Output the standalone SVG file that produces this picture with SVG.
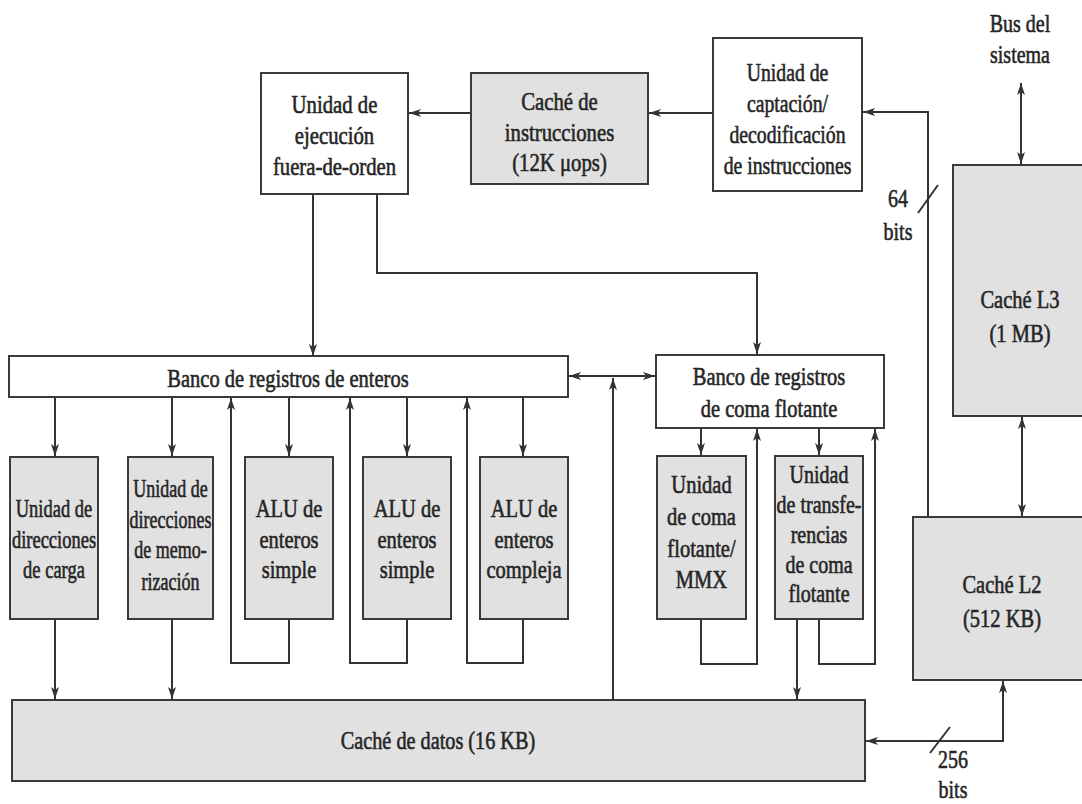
<svg xmlns="http://www.w3.org/2000/svg" width="1082" height="804" viewBox="0 0 1082 804">
<defs>
<style>
.box{fill:#ffffff;stroke:#3a3a3a;stroke-width:2}
.sh{fill:#e1e1e1;stroke:#3a3a3a;stroke-width:2}
.ln{fill:none;stroke:#333;stroke-width:2}
.t{font-family:"Liberation Serif","Times New Roman",serif;font-size:25px;fill:#262626;stroke:#262626;stroke-width:0.6;text-anchor:middle}
</style>
<marker id="ah" viewBox="0 0 12 8" markerWidth="12" markerHeight="8" refX="12" refY="4" orient="auto-start-reverse" markerUnits="userSpaceOnUse">
<path d="M0,0 L12,4 L0,8 L3,4 z" fill="#333"/>
</marker>
</defs>
<rect width="1082" height="804" fill="#ffffff"/>

<g id="connectors">
<line class="ln" x1="713" y1="113" x2="649" y2="113" marker-end="url(#ah)"/>
<line class="ln" x1="471" y1="113" x2="409" y2="113" marker-end="url(#ah)"/>
<polyline class="ln" points="928,517 928,112 863,112" marker-end="url(#ah)"/>
<line class="ln" x1="918" y1="213" x2="938" y2="185"/>
<line class="ln" x1="1021" y1="83" x2="1021" y2="164" marker-start="url(#ah)" marker-end="url(#ah)"/>
<line class="ln" x1="1022" y1="417" x2="1022" y2="516" marker-start="url(#ah)" marker-end="url(#ah)"/>
<line class="ln" x1="313" y1="194" x2="313" y2="356" marker-end="url(#ah)"/>
<polyline class="ln" points="377,194 377,273 757,273 757,354" marker-end="url(#ah)"/>
<line class="ln" x1="569" y1="376" x2="655" y2="376" marker-start="url(#ah)" marker-end="url(#ah)"/>
<line class="ln" x1="613" y1="700" x2="613" y2="378" marker-end="url(#ah)"/>
<line class="ln" x1="55" y1="398" x2="55" y2="456" marker-end="url(#ah)"/>
<line class="ln" x1="172" y1="398" x2="172" y2="456" marker-end="url(#ah)"/>
<line class="ln" x1="289" y1="398" x2="289" y2="456" marker-end="url(#ah)"/>
<line class="ln" x1="407" y1="398" x2="407" y2="456" marker-end="url(#ah)"/>
<line class="ln" x1="523" y1="398" x2="523" y2="456" marker-end="url(#ah)"/>
<line class="ln" x1="55" y1="619" x2="55" y2="699" marker-end="url(#ah)"/>
<line class="ln" x1="172" y1="619" x2="172" y2="699" marker-end="url(#ah)"/>
<polyline class="ln" points="289,619 289,663 231,663 231,398" marker-end="url(#ah)"/>
<polyline class="ln" points="407,619 407,663 350,663 350,398" marker-end="url(#ah)"/>
<polyline class="ln" points="523,619 523,663 467,663 467,398" marker-end="url(#ah)"/>
<line class="ln" x1="701" y1="429" x2="701" y2="455" marker-end="url(#ah)"/>
<polyline class="ln" points="701,619 701,664 757,664 757,429" marker-end="url(#ah)"/>
<line class="ln" x1="819" y1="429" x2="819" y2="455" marker-end="url(#ah)"/>
<polyline class="ln" points="819,619 819,664 875,664 875,429" marker-end="url(#ah)"/>
<line class="ln" x1="797" y1="619" x2="797" y2="699" marker-end="url(#ah)"/>
<polyline class="ln" points="1003,681 1003,741 866,741" marker-start="url(#ah)" marker-end="url(#ah)"/>
<line class="ln" x1="930" y1="753" x2="950" y2="727"/>
</g>

<g id="bus">
<text class="t" transform="translate(1020,0) scale(0.8,1)"><tspan x="0" y="32">Bus del</tspan><tspan x="0" y="63">sistema</tspan></text>
</g>
<g id="label64">
<text class="t" transform="translate(898,0) scale(0.8,1)"><tspan x="0" y="207">64</tspan><tspan x="0" y="240">bits</tspan></text>
</g>
<g id="label256">
<text class="t" transform="translate(953,0) scale(0.8,1)"><tspan x="0" y="768">256</tspan><tspan x="0" y="798">bits</tspan></text>
</g>

<g id="ooo">
<rect class="box" x="261" y="73" width="147" height="121"/>
<text class="t" transform="translate(334.5,0) scale(0.83,1)"><tspan x="0" y="113">Unidad de</tspan><tspan x="0" y="144">ejecución</tspan><tspan x="0" y="175">fuera-de-orden</tspan></text>
</g>
<g id="icache">
<rect class="sh" x="471" y="73" width="177" height="111"/>
<text class="t" transform="translate(559.5,0) scale(0.83,1)"><tspan x="0" y="110">Caché de</tspan><tspan x="0" y="141">instrucciones</tspan><tspan x="0" y="171">(12K μops)</tspan></text>
</g>
<g id="fetch">
<rect class="box" x="713" y="38" width="149" height="153"/>
<text class="t" transform="translate(787.5,0) scale(0.79,1)"><tspan x="0" y="81">Unidad de</tspan><tspan x="0" y="112">captación/</tspan><tspan x="0" y="143">decodificación</tspan><tspan x="0" y="174">de instrucciones</tspan></text>
</g>
<g id="l3">
<rect class="sh" x="953" y="165" width="140" height="251"/>
<text class="t" transform="translate(1020,0) scale(0.82,1)"><tspan x="0" y="308">Caché L3</tspan><tspan x="0" y="342">(1 MB)</tspan></text>
</g>
<g id="l2">
<rect class="sh" x="913" y="517" width="180" height="163"/>
<text class="t" transform="translate(1002,0) scale(0.82,1)"><tspan x="0" y="593">Caché L2</tspan><tspan x="0" y="627">(512 KB)</tspan></text>
</g>
<g id="intbank">
<rect class="box" x="9" y="356" width="559" height="41"/>
<text class="t" transform="translate(288,0) scale(0.82,1)"><tspan x="0" y="387">Banco de registros de enteros</tspan></text>
</g>
<g id="fpbank">
<rect class="box" x="656" y="355" width="228" height="73"/>
<text class="t" transform="translate(769,0) scale(0.82,1)"><tspan x="0" y="385">Banco de registros</tspan><tspan x="0" y="417">de coma flotante</tspan></text>
</g>
<g id="load">
<rect class="sh" x="10" y="457" width="88" height="162"/>
<text class="t" transform="translate(54,0) scale(0.74,1)"><tspan x="0" y="517">Unidad de</tspan><tspan x="0" y="548">direcciones</tspan><tspan x="0" y="578">de carga</tspan></text>
</g>
<g id="store">
<rect class="sh" x="128" y="457" width="85" height="162"/>
<text class="t" transform="translate(170.5,0) scale(0.72,1)"><tspan x="0" y="497">Unidad de</tspan><tspan x="0" y="528">direcciones</tspan><tspan x="0" y="558">de memo-</tspan><tspan x="0" y="590">rización</tspan></text>
</g>
<g id="alu1">
<rect class="sh" x="245" y="457" width="88" height="162"/>
<text class="t" transform="translate(289,0) scale(0.82,1)"><tspan x="0" y="517">ALU de</tspan><tspan x="0" y="548">enteros</tspan><tspan x="0" y="578">simple</tspan></text>
</g>
<g id="alu2">
<rect class="sh" x="363" y="457" width="88" height="162"/>
<text class="t" transform="translate(407,0) scale(0.82,1)"><tspan x="0" y="517">ALU de</tspan><tspan x="0" y="548">enteros</tspan><tspan x="0" y="578">simple</tspan></text>
</g>
<g id="alu3">
<rect class="sh" x="480" y="457" width="88" height="162"/>
<text class="t" transform="translate(524,0) scale(0.82,1)"><tspan x="0" y="517">ALU de</tspan><tspan x="0" y="548">enteros</tspan><tspan x="0" y="578">compleja</tspan></text>
</g>
<g id="fpu">
<rect class="sh" x="657" y="456" width="89" height="163"/>
<text class="t" transform="translate(701.5,0) scale(0.82,1)"><tspan x="0" y="493">Unidad</tspan><tspan x="0" y="525">de coma</tspan><tspan x="0" y="557">flotante/</tspan><tspan x="0" y="588">MMX</tspan></text>
</g>
<g id="fpmove">
<rect class="sh" x="775" y="456" width="88" height="163"/>
<text class="t" transform="translate(819,0) scale(0.8,1)"><tspan x="0" y="483">Unidad</tspan><tspan x="0" y="513">de transfe-</tspan><tspan x="0" y="543">rencias</tspan><tspan x="0" y="573">de coma</tspan><tspan x="0" y="602">flotante</tspan></text>
</g>
<g id="dcache">
<rect class="sh" x="12" y="700" width="853" height="81"/>
<text class="t" transform="translate(438,0) scale(0.81,1)"><tspan x="0" y="749">Caché de datos (16 KB)</tspan></text>
</g>
</svg>
